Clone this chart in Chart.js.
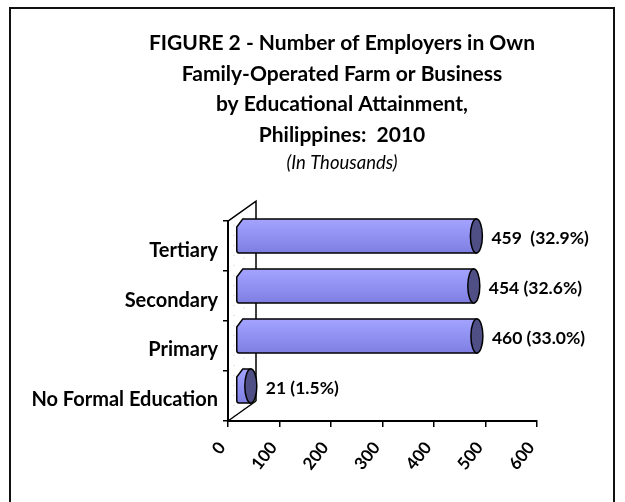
<!DOCTYPE html>
<html><head><meta charset="utf-8">
<script src="https://cdn.jsdelivr.net/npm/chart.js@4"></script>
<style>
html,body{margin:0;padding:0;background:#fff;overflow:hidden;width:625px;height:502px}
#frame{position:absolute;left:9px;top:7px;width:606px;height:600px;border:2px solid #111;box-sizing:border-box}
#wrap{position:absolute;left:0;top:0;width:684px;height:502px}
</style></head><body>
<div id="frame"></div>
<div id="wrap"><canvas id="c" width="684" height="502" style="width:684px;height:502px"></canvas></div>
<script>
const categories = ['Tertiary', 'Secondary', 'Primary', 'No Formal Education'];
const values = [459, 454, 460, 21];
const valueLabels = ['459  (32.9%)', '454 (32.6%)', '460 (33.0%)', '21 (1.5%)'];
const xMin = 0, xMax = 600, xStep = 100;
const titleLines = ['FIGURE 2 - Number of Employers in Own', 'Family-Operated Farm or Business', 'by Educational Attainment,', 'Philippines:  2010'];
const subtitleText = '(In Thousands)';

const FONT = 'Lato, "Noto Sans", sans-serif';
const DX = 28, DY = 20; // wall depth

const cyl3d = {
  id: 'cyl3d',
  beforeDatasetsDraw(chart) {
    const ctx = chart.ctx, a = chart.chartArea;
    ctx.save();
    ctx.strokeStyle = '#c8c8c8';
    ctx.lineWidth = 1;
    ctx.setLineDash([1, 9]);
    [6, 16].forEach(o => {
      ctx.beginPath();
      ctx.moveTo(a.left + o, a.top - o * DY / DX + 8);
      ctx.lineTo(a.left + o, a.bottom - o * DY / DX);
      ctx.stroke();
    });
    ctx.setLineDash([]);
    ctx.strokeStyle = '#000';
    ctx.lineWidth = 1.5;
    ctx.beginPath();
    ctx.moveTo(a.left, a.top);
    ctx.lineTo(a.left + DX, a.top - DY);
    ctx.lineTo(a.left + DX, a.bottom - DY);
    ctx.moveTo(a.left, a.bottom);
    ctx.lineTo(a.left + DX, a.bottom - DY);
    ctx.stroke();
    ctx.restore();
  },
  afterDatasetsDraw(chart) {
    const ctx = chart.ctx;
    const meta = chart.getDatasetMeta(0);
    ctx.save();
    meta.data.forEach((el, i) => {
      const p = el.getProps(['x', 'y', 'base', 'height'], true);
      const h = p.height, cy = p.y - 10;
      const top = cy - h / 2, bot = cy + h / 2;
      const xs = p.base + 8, xc = p.x + 12, rx = 6, ry = h / 2;
      const g = ctx.createLinearGradient(0, top, 0, bot);
      g.addColorStop(0, '#a4a4ff');
      g.addColorStop(0.35, '#9696f6');
      g.addColorStop(0.7, '#8a8aec');
      g.addColorStop(1, '#7e7ee0');
      const b = 6;
      ctx.beginPath();
      ctx.moveTo(xs + b, top);
      ctx.lineTo(xc, top);
      ctx.lineTo(xc, bot);
      ctx.lineTo(xs + 2, bot);
      ctx.quadraticCurveTo(xs, bot, xs, bot - 3);
      ctx.lineTo(xs, top + b + 2);
      ctx.lineTo(xs + b, top);
      ctx.closePath();
      ctx.fillStyle = g;
      ctx.fill();
      ctx.strokeStyle = '#000';
      ctx.lineWidth = 1.5;
      ctx.stroke();
      ctx.beginPath();
      ctx.ellipse(xc, cy, rx, ry, 0, 0, Math.PI * 2);
      ctx.fillStyle = '#4f4f86';
      ctx.fill();
      ctx.stroke();
      ctx.fillStyle = '#000';
      ctx.font = 'bold 17.5px ' + FONT;
      ctx.textAlign = 'left';
      ctx.textBaseline = 'middle';
      ctx.fillText(valueLabels[i], xc + rx + 9, cy + 2);
    });
    ctx.restore();
  }
};

new Chart(document.getElementById('c'), {
  type: 'bar',
  data: {
    labels: categories,
    datasets: [{ data: values, backgroundColor: 'rgba(0,0,0,0)', borderWidth: 0, categoryPercentage: 1, barPercentage: 0.68 }]
  },
  options: {
    indexAxis: 'y',
    responsive: false,
    animation: false,
    devicePixelRatio: 1,
    layout: { padding: 0 },
    plugins: {
      legend: { display: false },
      tooltip: { enabled: false },
      title: { display: true, text: titleLines, color: '#000', font: { family: FONT, size: 21, weight: 'bold', lineHeight: 1.46 }, padding: { top: 28, bottom: 0 } },
      subtitle: { display: true, text: subtitleText, color: '#000', font: { family: FONT, size: 18.5, style: 'italic', lineHeight: 1.35 }, padding: { top: 0, bottom: 45.5 } }
    },
    scales: {
      x: {
        type: 'linear', min: xMin, max: xMax,
        ticks: { stepSize: xStep, minRotation: 52, maxRotation: 52, color: '#000', font: { family: FONT, size: 17, weight: 'bold' }, padding: 11, labelOffset: -6 },
        grid: { drawOnChartArea: false, drawTicks: true, tickLength: 6, color: '#000', lineWidth: 1.5 },
        border: { display: true, color: '#000', width: 2 },
        afterFit(s) { s.height = 81; }
      },
      y: {
        type: 'category',
        ticks: { color: '#000', font: { family: FONT, size: 20, weight: 'bold' }, padding: 5, labelOffset: 4 },
        grid: { drawOnChartArea: false, drawTicks: true, tickLength: 5, color: '#000', lineWidth: 1.5, offset: true },
        border: { display: true, color: '#000', width: 2 },
        afterFit(s) { s.width = 228; }
      },
      yR: {
        type: 'category', position: 'right',
        ticks: { display: false }, grid: { display: false }, border: { display: false },
        afterFit(s) { s.width = 147; }
      }
    }
  },
  plugins: [cyl3d]
});
</script>
</body></html>
